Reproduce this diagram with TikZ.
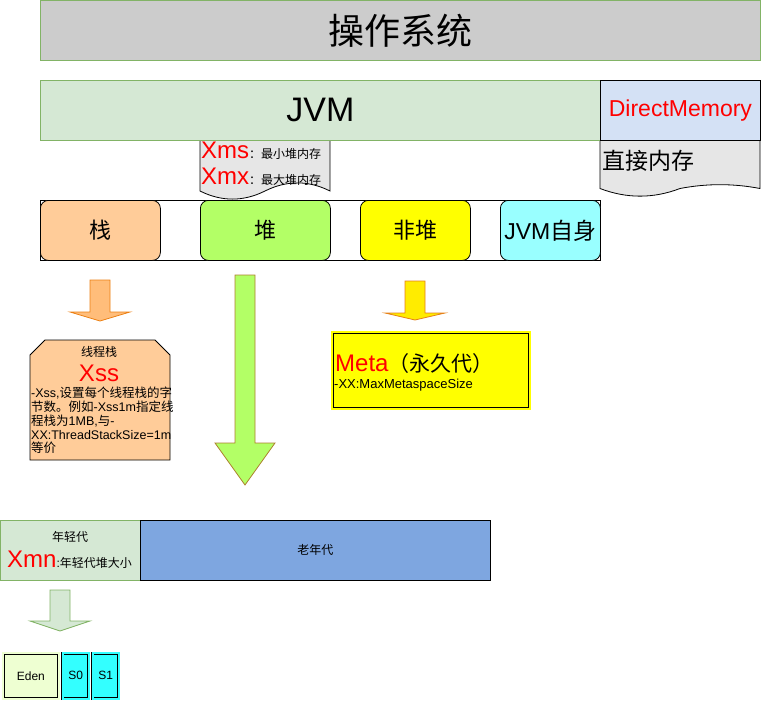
\documentclass[tikz,border=0pt]{standalone}
\usepackage{fontspec}
\setmainfont{Liberation Sans}
\newfontfamily\cjk{Noto Sans CJK SC}
\definecolor{gris}{HTML}{CCCCCC}
\definecolor{hoja}{HTML}{E6E6E6}
\definecolor{verde}{HTML}{82B366}
\definecolor{verdeclaro}{HTML}{D5E8D4}
\definecolor{azulclaro}{HTML}{D4E1F5}
\definecolor{azul}{HTML}{7EA6E0}
\definecolor{naranja}{HTML}{FFCC99}
\definecolor{lima}{HTML}{B3FF66}
\definecolor{amarillo}{HTML}{FFFF00}
\definecolor{cian}{HTML}{99FFFF}
\definecolor{turquesa}{HTML}{33FFFF}
\definecolor{eden}{HTML}{EEFFD2}
\begin{document}
\begin{tikzpicture}[x=1pt,y=-1pt]

\tikzset{caja/.style={rectangle,draw,line width=0.8pt,inner sep=0pt,anchor=north west}}
\tikzset{parte/.style={caja,rounded corners=8pt,minimum height=60pt,font=\fontsize{22}{24}\selectfont\cjk}}
\tikzset{doble/.style={caja,double distance=2pt,line width=0.7pt}}
\tikzset{flecha/.style={line width=0.8pt,line join=miter}}
\tikzset{chico/.style={inner sep=0pt,font=\fontsize{12}{14}\selectfont}}
\tikzset{rojo/.style={text=red,font=\fontsize{24}{26}\selectfont}}

\useasboundingbox (0,0) rectangle (761,701);

\draw (40,0) node[caja,fill=gris,draw=verde,minimum width=720pt,minimum height=60pt,font=\fontsize{36}{40}\selectfont\cjk](os) {操作系统};

% hojas
\draw[fill=hoja,line width=0.8pt] (200,140) -- (330,140) -- (330,191)
  .. controls (308.33,180.2) and (286.67,180.2) .. (265,191)
  .. controls (243.33,201.8) and (221.67,201.8) .. (200,191) -- cycle;
\draw (201,151) node[anchor=west,inner sep=0pt](xms) {{\fontsize{24}{26}\selectfont\color{red}Xms}{\fontsize{12}{14}\selectfont\cjk：最小堆内存}};
\draw (201,177) node[anchor=west,inner sep=0pt](xmx) {{\fontsize{24}{26}\selectfont\color{red}Xmx}{\fontsize{12}{14}\selectfont\cjk：最大堆内存}};

\draw[fill=hoja,line width=0.8pt] (600,140) -- (760,140) -- (760,188.5)
  .. controls (733.33,183.4) and (706.67,183.4) .. (680,188.5)
  .. controls (653.33,198.7) and (626.67,198.7) .. (600,188.5) -- cycle;
\draw (602,161) node[anchor=west,inner sep=0pt,font=\fontsize{23}{25}\selectfont\cjk](dmtext) {直接内存};

\draw (40,80) node[caja,fill=verdeclaro,draw=verde,minimum width=560pt,minimum height=60pt,font=\fontsize{34}{38}\selectfont](jvm) {JVM};
\draw (600,80) node[caja,fill=azulclaro,minimum width=160pt,minimum height=60pt,rojo,font=\fontsize{23}{25}\selectfont](dm) {DirectMemory};

% partes
\draw (40,200) node[caja,minimum width=560pt,minimum height=60pt](fila) {};
\draw (40,200) node[parte,fill=naranja,minimum width=120pt](stack) {栈};
\draw (200,200) node[parte,fill=lima,minimum width=130pt](heap) {堆};
\draw (360,200) node[parte,fill=amarillo,minimum width=110pt](nonheap) {非堆};
\draw (500,200) node[parte,fill=cian,minimum width=100pt,font=\fontsize{23}{25}\selectfont](self) {JVM{\cjk 自身}};

% flechas
\draw[flecha,fill=naranja!80!orange,draw=orange!70!brown] (90,280) -- (110,280) -- (110,312) -- (130,312) -- (100,321) -- (70,312) -- (90,312) -- cycle;
\draw[flecha,fill=lima,draw=brown!70!olive] (235,275) -- (255,275) -- (255,443) -- (275,443) -- (245,485) -- (215,443) -- (235,443) -- cycle;
\draw[flecha,fill=amarillo!85!orange,draw=orange!60!brown] (405,281) -- (425,281) -- (425,313) -- (445,313) -- (415,320) -- (385,313) -- (405,313) -- cycle;
\draw[flecha,fill=verdeclaro,draw=verde] (50,590) -- (70,590) -- (70,621) -- (90,621) -- (60,631) -- (30,621) -- (50,621) -- cycle;

% pila de hilos
\draw[fill=naranja,line width=0.8pt] (45,340) -- (155,340) -- (170,355) -- (170,460) -- (30,460) -- (30,355) -- cycle;
\draw (99,352) node[chico,font=\fontsize{12}{14}\selectfont\cjk](tstack) {线程栈};
\draw (99,373) node[rojo](xss) {Xss};
\draw (31,387) node[chico,anchor=north west,align=left,font=\fontsize{12.5}{13.8}\selectfont](xssdesc) {-Xss,{\cjk 设置每个线程栈的字}\\{\cjk 节数。例如}-Xss1m{\cjk 指定线}\\{\cjk 程栈为}1MB,{\cjk 与}-\\XX:ThreadStackSize=1m\\{\cjk 等价}};

% meta
\draw (331.85,331.85) node[doble,fill=amarillo,double=amarillo,minimum width=197.3pt,minimum height=76.3pt](meta) {};
\draw (335,364) node[anchor=west,inner sep=0pt](metatext) {{\fontsize{24}{26}\selectfont\color{red}Meta}{\fontsize{21}{24}\selectfont\cjk（永久代）}};
\draw (334,385) node[anchor=west,inner sep=0pt,font=\fontsize{13}{15}\selectfont](metaopt) {-XX:MaxMetaspaceSize};

% generaciones
\draw (0,520) node[caja,fill=verdeclaro,draw=verde,minimum width=140pt,minimum height=60pt](young) {};
\draw (70,537) node[chico,font=\fontsize{12}{14}\selectfont\cjk](youngtext) {年轻代};
\draw (7,560) node[anchor=west,inner sep=0pt](xmn) {{\fontsize{24}{26}\selectfont\color{red}Xmn}{\fontsize{12}{14}\selectfont:{\cjk 年轻代堆大小}}};
\draw (140,520) node[caja,fill=azul,minimum width=350pt,minimum height=60pt,font=\fontsize{12}{14}\selectfont\cjk](old) {老年代};

\draw (2.85,652.85) node[doble,fill=eden,double=eden,minimum width=55.3pt,minimum height=45.3pt,font=\fontsize{12}{14}\selectfont](eden) {Eden};
\draw (62.35,652.85) node[doble,fill=turquesa,double=turquesa,minimum width=25.8pt,minimum height=45.3pt,font=\fontsize{12}{14}\selectfont](s0) {S0};
\draw (92.35,652.85) node[doble,fill=turquesa,double=turquesa,minimum width=25.8pt,minimum height=45.3pt,font=\fontsize{12}{14}\selectfont](s1) {S1};

\end{tikzpicture}
\end{document}
